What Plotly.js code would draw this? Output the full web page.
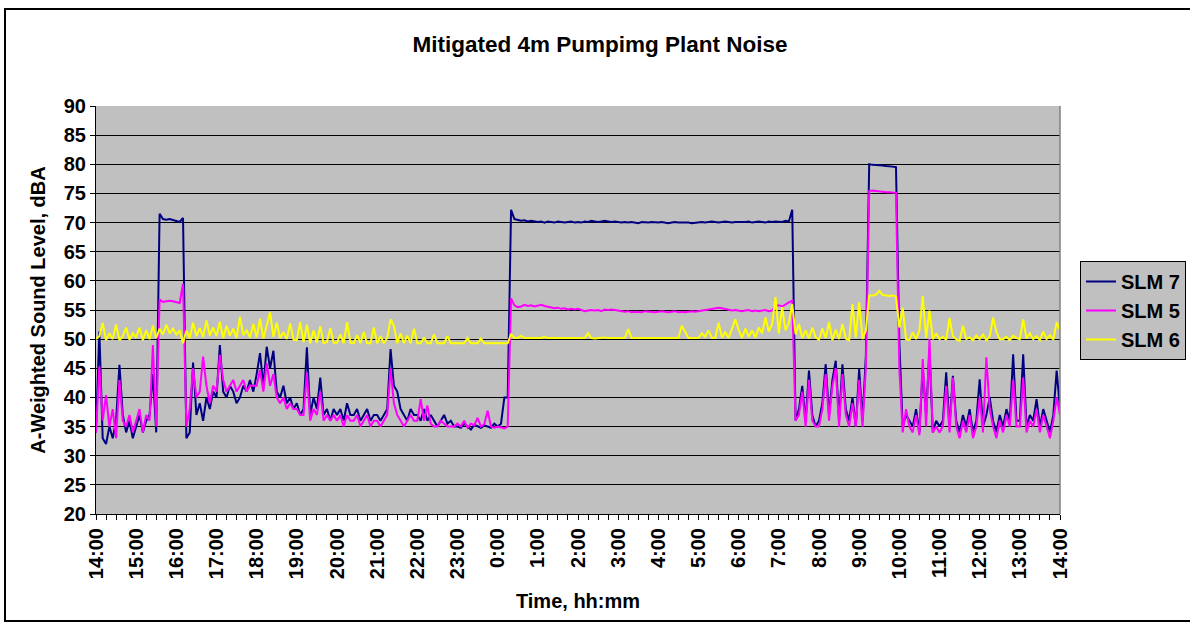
<!DOCTYPE html>
<html>
<head>
<meta charset="utf-8">
<script src="https://cdn.plot.ly/plotly-3.0.1.min.js"></script>
<style>
  html, body { margin: 0; padding: 0; background: #fff; }
  #wrap { position: relative; width: 1190px; height: 631px; overflow: hidden; }
  #chart { position: absolute; left: 0; top: 0; width: 1190px; height: 631px; }
  #frame { position: absolute; left: 4px; top: 8px; width: 1200px; height: 614px;
           border: 2px solid #000; pointer-events: none; box-sizing: border-box; }
</style>
</head>
<body>
<div id="wrap">
  <div id="chart"></div>
  <div id="frame"></div>
</div>
<script>
// Tick labels (hours from 14:00 to 14:00 next day)
const tickLabels = ['14:00','15:00','16:00','17:00','18:00','19:00','20:00','21:00','22:00','23:00',
  '0:00','1:00','2:00','3:00','4:00','5:00','6:00','7:00','8:00','9:00','10:00','11:00','12:00','13:00','14:00'];

const seriesNames = ['SLM 7', 'SLM 5', 'SLM 6'];

// Sampling interval of the readings, minutes (readings start at 14:00)
const sampleMinutes = 5;

// SLM 7 readings, dBA (one row per hour, 5-minute samples)
const slm7 = [
  34, 51.3, 33, 32, 35, 33, 36, 45.6, 37, 34, 36, 33,
  35, 37, 34, 36, 37, 44, 34, 71.5, 70.6, 70.5, 70.6, 70.4,
  70.2, 70.1, 70.8, 33, 34, 46, 37, 39, 36, 40, 38, 41,
  40, 49, 41, 40, 42, 41, 39, 40, 42, 41, 43, 41,
  44, 47.6, 42, 48.7, 45, 48, 41, 40, 42, 39, 40, 38,
  39, 37, 38, 48.6, 37, 40, 38, 43.4, 37, 38, 36, 38,
  37, 38, 36, 39, 37, 37, 38, 36, 37, 38, 36, 37,
  37, 36, 37, 38, 48.3, 42, 41, 38, 37, 36, 38, 37,
  37, 36, 38, 36, 37, 36, 35, 36, 37, 35.5, 36, 35,
  35, 34.8, 35.5, 35, 34.5, 35.3, 35, 34.8, 35.2, 35, 34.8, 35.5,
  35, 35.5, 40, 40, 72.2, 70.6, 70.5, 70.3, 70.4, 70.2, 70.3, 70.2,
  70.1, 70.2, 70.0, 70.2, 70.1, 70.0, 70.2, 70.1, 70.0, 70.1, 70.2, 70.0,
  70.1, 70.0, 70.2, 70.1, 70.3, 70.2, 70.1, 70.2, 70.3, 70.2, 70.1, 70.2,
  70.1, 70.0, 70.1, 70.0, 70.1, 70.0, 69.9, 70.1, 70.0, 70.0, 70.1, 70.0,
  70.0, 70.1, 70.0, 69.9, 70.0, 70.1, 70.0, 70.0, 70.1, 70.0, 69.9, 70.0,
  70.0, 70.1, 70.0, 70.1, 70.2, 70.1, 70.0, 70.1, 70.2, 70.1, 70.0, 70.1,
  70.1, 70.0, 70.1, 70.2, 70.0, 70.1, 70.2, 70.1, 70.0, 70.2, 70.1, 70.2,
  70.2, 70.1, 70.3, 70.2, 72.2, 36, 38, 42, 36, 44.6, 37, 35,
  36, 39, 45.7, 37, 43, 46.3, 36, 45.7, 38, 36, 40, 35,
  44.9, 36, 47.1, 80.0, 79.9, 79.9, 79.8, 79.8, 79.7, 79.7, 79.6, 79.5,
  49.4, 35, 37, 36, 35, 38, 34, 45, 37, 48, 34, 36,
  35, 36, 44.3, 35, 43.7, 36, 34, 37, 35, 38, 34, 36,
  43.1, 35, 37, 40, 36, 34, 37, 35, 38, 36, 47.4, 36,
  36, 47.4, 35, 37, 36, 39.7, 35, 38, 36, 34, 37, 44.6, 38
];

// SLM 5 readings, dBA
const slm5 = [
  34, 45.3, 36, 40.4, 35, 38, 33, 43, 36, 35, 37, 34,
  36, 38, 34, 37, 36, 49, 35, 56.8, 56.4, 56.5, 56.6, 56.5,
  56.3, 56.2, 59.5, 35, 38, 45, 40, 41, 47, 42, 39, 42,
  41, 47.3, 43, 41, 42, 43, 41, 42, 43, 41, 42, 42,
  42, 44.7, 41, 45.9, 42, 44, 40, 39, 40, 38, 39, 38,
  38, 37, 37, 44.3, 36, 38, 37, 41, 36, 37, 36, 37,
  36, 37, 35, 37, 36, 36, 37, 35, 36, 37, 35, 36,
  36, 35, 36, 37, 45, 39, 37, 36, 35, 36, 37, 36,
  36, 39.7, 36, 38.6, 35.5, 35, 35, 36, 35.5, 35, 35, 35,
  35.5, 35, 36, 34.8, 35.5, 35.2, 36.5, 35, 35.4, 37.7, 35, 34.8,
  35, 34.8, 34.7, 35, 57, 55.8, 55.5, 55.6, 55.9, 55.7, 55.8, 55.6,
  55.7, 55.9, 55.7, 55.6, 55.4, 55.3, 55.4, 55.2, 55.3, 55.1, 55.2, 55.1,
  55.2, 55.0, 54.8, 54.9, 55.0, 54.9, 55.0, 54.8, 55.1, 55.0, 55.1, 55.0,
  54.9, 54.8, 54.7, 54.8, 54.6, 54.7, 54.7, 54.6, 54.8, 54.7, 54.7, 54.6,
  54.7, 54.8, 54.7, 54.6, 54.7, 54.8, 54.6, 54.7, 54.6, 54.7, 54.8, 54.7,
  54.8, 54.9, 55.0, 55.1, 55.2, 55.3, 55.4, 55.3, 55.2, 55.0, 54.9, 55.0,
  54.9, 54.8, 54.9, 55.0, 54.8, 54.9, 54.8, 54.9, 55.0, 54.8, 54.9, 55.7,
  55.8, 55.6, 56.0, 56.3, 56.6, 36, 37, 41, 35, 43, 36, 35,
  35, 38, 44, 36, 42, 45, 35, 44, 37, 35, 39, 35,
  43, 35, 45, 75.4, 75.5, 75.4, 75.4, 75.3, 75.2, 75.2, 75.1, 75.1,
  45, 34, 38, 35, 34, 37, 33.5, 46.6, 35, 50, 34, 35,
  34, 35, 42, 34, 43.4, 35, 33, 36, 34, 37, 33, 35,
  40, 34, 46.9, 38, 35, 33, 36, 34, 37, 35, 43, 35,
  35, 43.4, 34, 36, 35, 38, 34, 37, 35, 33, 36, 40, 37
];

// SLM 6 readings, dBA
const slm6 = [
  50, 50.5, 52.8, 49.8, 51, 50, 52.5, 49.8, 50.5, 52, 49.9, 51,
  50.3, 52, 49.8, 51.5, 50, 52.3, 50.2, 51.8, 50.8, 52.5, 51, 51.8,
  50.8, 51.5, 49.3, 51.5, 50.2, 52.8, 50.5, 51.9, 50.4, 53.2, 50.6, 52,
  50.5, 53, 50.2, 52.3, 50.6, 51.8, 50.2, 53.8, 50.7, 51.5, 50.3, 52.6,
  50.3, 53.5, 50.1, 52.2, 54.6, 50.4, 52.8, 50.2, 51.2, 50.0, 52.7, 49.9,
  49.8, 52.9, 49.5, 52.5, 49.3, 51.5, 49.4, 52.2, 49.3, 49.5, 51.9, 49.4,
  49.4, 50.8, 49.3, 52.9, 49.4, 49.3, 50.7, 49.3, 51.2, 49.3, 49.3, 52,
  49.3, 50.5, 49.3, 50.2, 53.4, 52.3, 49.3, 51, 49.3, 50.6, 49.3, 51.8,
  49.3, 49.3, 50.3, 49.3, 49.3, 50.8, 49.3, 49.3, 49.3, 50.5, 49.3, 49.3,
  49.3, 49.3, 49.3, 50.2, 49.3, 49.3, 49.3, 50.1, 49.3, 49.3, 49.3, 49.3,
  49.3, 49.3, 49.3, 49.3, 50.9, 50.2, 50.2, 50.6, 50.2, 50.2, 50.2, 50.2,
  50.2, 50.2, 50.4, 50.2, 50.2, 50.2, 50.2, 50.2, 50.2, 50.2, 50.2, 50.2,
  50.2, 50.2, 50.2, 51.0, 50.2, 50.1, 50.2, 50.2, 50.3, 50.2, 50.2, 50.2,
  50.2, 50.2, 50.2, 51.7, 50.2, 50.2, 50.2, 50.2, 50.2, 50.3, 50.2, 50.2,
  50.2, 50.2, 50.2, 50.2, 50.2, 50.2, 50.2, 52.3, 51.2, 50.2, 50.2, 50.2,
  50.2, 51.0, 50.4, 51.5, 50.2, 50.2, 52.8, 50.3, 51.2, 50.2, 51.7, 53.4,
  51.6, 50.2, 51.8, 50.4, 51.5, 50.3, 52.0, 51.0, 53.7, 51.3, 52.6, 57.2,
  51.0, 55.5, 51.5, 52.8, 56.0, 50.8, 52.6, 50.2, 51.5, 50.1, 52.0, 50.3,
  49.9, 51.8, 50.2, 52.9, 49.8, 51.6, 50.0, 52.6, 50.1, 49.8, 56.0, 50.3,
  56.3, 50.0, 51.5, 57.5, 57.5, 57.6, 58.3, 57.6, 57.5, 57.4, 57.5, 57.3,
  52, 55.4, 50.0, 49.8, 51.2, 50.0, 51.5, 57.4, 50.2, 54.9, 50.0, 51.0,
  50.0, 50.4, 49.9, 53.6, 50.5, 50.0, 49.7, 52.3, 50.0, 50.3, 49.8, 50.6,
  50.0, 50.8, 49.8, 50.5, 53.7, 51.2, 50.0, 50.0, 50.4, 49.8, 50.6, 50.2,
  50.0, 53.4, 50.1, 51.0, 50.0, 50.5, 49.8, 51.3, 50.0, 50.7, 49.9, 52.9, 51.5
];

const seriesColors = ['#000080', '#ff00ff', '#ffff00'];

// elapsed hours since 14:00 for each sample
const hoursElapsed = slm7.map((_, i) => i * sampleMinutes / 60);
const tickPositions = tickLabels.map((_, i) => i);

const FONT = 'Arial, "Liberation Sans", sans-serif';

const data = [slm7, slm5, slm6].map((vals, k) => ({
  type: 'scatter',
  mode: 'lines',
  name: seriesNames[k],
  legendgroup: 'g' + k,
  x: hoursElapsed,
  y: vals,
  line: { color: seriesColors[k], width: 2 },
  hoverinfo: 'skip'
}));

const W = 1190, H = 631;
const L = 96, R = 130, T = 106, B = 117;
const plotW = W - L - R, plotH = H - T - B;

const layout = {
  width: W, height: H,
  margin: { l: L, r: R, t: T, b: B, pad: 0, autoexpand: false },
  paper_bgcolor: '#ffffff',
  plot_bgcolor: '#c0c0c0',
  font: { family: FONT, color: '#000', size: 20, weight: 'bold' },
  title: {
    text: 'Mitigated 4m Pumpimg Plant Noise',
    font: { family: FONT, size: 22.5, color: '#000', weight: 'bold' },
    x: 600 / W, xref: 'container', xanchor: 'center',
    y: 1 - 44 / H, yref: 'container', yanchor: 'middle'
  },
  xaxis: {
    range: [0, 24],
    tickmode: 'array',
    tickvals: tickPositions,
    ticktext: tickLabels,
    tickangle: -90,
    ticks: 'outside', ticklen: 5, tickwidth: 1, tickcolor: '#000',
    tickfont: { family: FONT, size: 20, color: '#000', weight: 'bold' },
    minor: { tickmode: 'linear', tick0: 0, dtick: 0.25, ticks: 'outside', ticklen: 5, tickwidth: 1, tickcolor: '#000', showgrid: false },
    showgrid: false, zeroline: false,
    showline: true, linecolor: '#000', linewidth: 1,
    automargin: false,
    title: { text: 'Time, hh:mm', font: { family: FONT, size: 20, color: '#000', weight: 'bold' }, standoff: 15 },
    fixedrange: true
  },
  yaxis: {
    range: [20, 90],
    tickmode: 'linear', tick0: 20, dtick: 5,
    ticks: 'outside', ticklen: 5, tickwidth: 1, tickcolor: '#000',
    tickfont: { family: FONT, size: 20, color: '#000', weight: 'bold' },
    showgrid: true, gridcolor: '#000', gridwidth: 1,
    zeroline: false,
    showline: true, linecolor: '#000', linewidth: 1,
    automargin: false,
    title: { text: 'A-Weighted Sound Level, dBA', font: { family: FONT, size: 20, color: '#000', weight: 'bold' }, standoff: 12 },
    fixedrange: true
  },
  shapes: [
    { type: 'line', xref: 'paper', yref: 'paper', x0: 1, x1: 1, y0: 0, y1: 1,
      line: { color: '#808080', width: 1.5 } }
  ],
  showlegend: true,
  legend: {
    xref: 'container', yref: 'container',
    x: 1080 / W, xanchor: 'left',
    y: 1 - 261 / H, yanchor: 'top',
    bgcolor: '#c0c0c0', bordercolor: '#000', borderwidth: 1,
    font: { family: FONT, size: 20, color: '#000', weight: 'bold' },
    tracegroupgap: 3,
    traceorder: 'normal'
  }
};

Plotly.newPlot('chart', data, layout, { staticPlot: true, displayModeBar: false });
</script>
</body>
</html>
